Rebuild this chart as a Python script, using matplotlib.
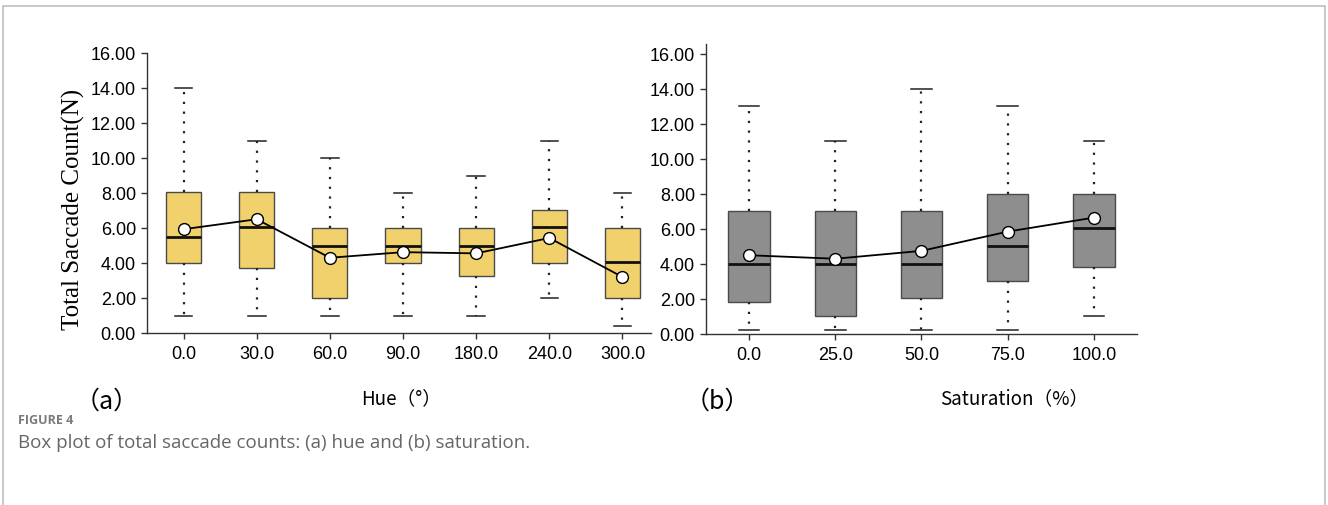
import matplotlib.pyplot as plt
from matplotlib.patches import Rectangle

# Hue panel (a)
hue_labels = ['0.0', '30.0', '60.0', '90.0', '180.0', '240.0', '300.0']
hue_low = [1, 1, 1, 1, 1, 2, 0.4]
hue_q1 = [4, 3.72, 2, 4, 3.28, 4, 2]
hue_med = [5.5, 6.05, 5, 5, 5, 6.05, 4.05]
hue_q3 = [8.05, 8.05, 6, 6, 6, 7.05, 6]
hue_high = [14, 11, 10, 8, 9, 11, 8]
hue_mean = [5.93, 6.5, 4.3, 4.62, 4.55, 5.43, 3.2]

# Saturation panel (b)
sat_labels = ['0.0', '25.0', '50.0', '75.0', '100.0']
sat_low = [0.2, 0.2, 0.2, 0.2, 1.05]
sat_q1 = [1.8, 1.05, 2.05, 3.05, 3.8]
sat_med = [4, 4, 4, 5.05, 6.05]
sat_q3 = [7, 7, 7, 8, 8]
sat_high = [13, 11, 14, 13, 11]
sat_mean = [4.5, 4.3, 4.75, 5.85, 6.65]

y_ticks = [0, 2, 4, 6, 8, 10, 12, 14, 16]

tick_font = 'Liberation Sans'
cjk_font = ['Noto Sans CJK SC', 'DejaVu Sans']

fig = plt.figure(figsize=(13.28, 5.06), dpi=100)
W, H = 1328, 506


def px_axes(x0, x1, ytop, ybot):
    return fig.add_axes([x0 / W, 1 - ybot / H, (x1 - x0) / W, (ybot - ytop) / H])


def draw_panel(ax, labels, low, q1, med, q3, high, mean, color, xlim, ymax):
    stats = []
    for i in range(len(labels)):
        stats.append(dict(whislo=low[i], q1=q1[i], med=med[i], q3=q3[i], whishi=high[i]))
    pos = list(range(len(labels)))
    ax.bxp(stats, positions=pos, widths=0.48, capwidths=0.24, patch_artist=True,
           showfliers=False,
           boxprops=dict(facecolor=color, edgecolor='#4a4a4a', linewidth=1.0),
           medianprops=dict(color='#111111', linewidth=2.0),
           whiskerprops=dict(color='#222222', linewidth=1.6, linestyle=(0, (1, 3.4))),
           capprops=dict(color='#222222', linewidth=1.1))
    ax.plot(pos, mean, color='black', linewidth=1.3, marker='o', markersize=8.5,
            markerfacecolor='white', markeredgecolor='black', markeredgewidth=1.0, zorder=5)
    ax.set_xlim(*xlim)
    ax.set_ylim(0, ymax)
    ax.set_yticks(y_ticks)
    ax.set_yticklabels(['%.2f' % v for v in y_ticks], family=tick_font, fontsize=13)
    ax.set_xticks(pos)
    ax.set_xticklabels(labels, family=tick_font, fontsize=13)
    ax.tick_params(direction='out', length=4, width=1, color='#333333', pad=4)
    ax.tick_params(axis='x', pad=5)
    for s in ['top', 'right']:
        ax.spines[s].set_visible(False)
    for s in ['left', 'bottom']:
        ax.spines[s].set_color('#333333')
        ax.spines[s].set_linewidth(1.0)


ax1 = px_axes(147, 651, 54, 334)
draw_panel(ax1, hue_labels, hue_low, hue_q1, hue_med, hue_q3, hue_high, hue_mean,
           '#F1D16C', (-0.5, 6.39), 16)
fig.text(73 / W, 1 - 209 / H, 'Total Saccade Count(N)', family='Liberation Serif',
         fontsize=18, rotation=90, ha='center', va='center')

ax2 = px_axes(706, 1137, 45, 335)
draw_panel(ax2, sat_labels, sat_low, sat_q1, sat_med, sat_q3, sat_high, sat_mean,
           '#8E8E8E', (-0.5, 4.5), 16.57)

# panel tags and axis titles
fig.text(107 / W, 1 - 402 / H, '（a）', family=cjk_font, fontsize=18, ha='center', va='center')
fig.text(401 / W, 1 - 399 / H, 'Hue（°）', family=cjk_font, fontsize=13.5, ha='center', va='center')
fig.text(717 / W, 1 - 402 / H, '（b）', family=cjk_font, fontsize=18, ha='center', va='center')
fig.text(1014 / W, 1 - 399 / H, 'Saturation（%）', family=cjk_font, fontsize=13.5,
         ha='center', va='center')

# caption
fig.text(18 / W, 1 - 421 / H, 'FIGURE 4', family='Open Sans', fontsize=9, color='#7a7a7a',
         fontweight='bold', va='center')
fig.text(18 / W, 1 - 443 / H, 'Box plot of total saccade counts: (a) hue and (b) saturation.',
         family='Open Sans', fontsize=13.5, color='#666666', va='center')

# outer frame
fig.patches.append(Rectangle((3 / W, -0.05), 1322 / W, 1 - 7 / H + 0.05, transform=fig.transFigure,
                             fill=False, edgecolor='#bdbdbd', linewidth=1.2))

fig.savefig('out.png', dpi=100, facecolor='white')
